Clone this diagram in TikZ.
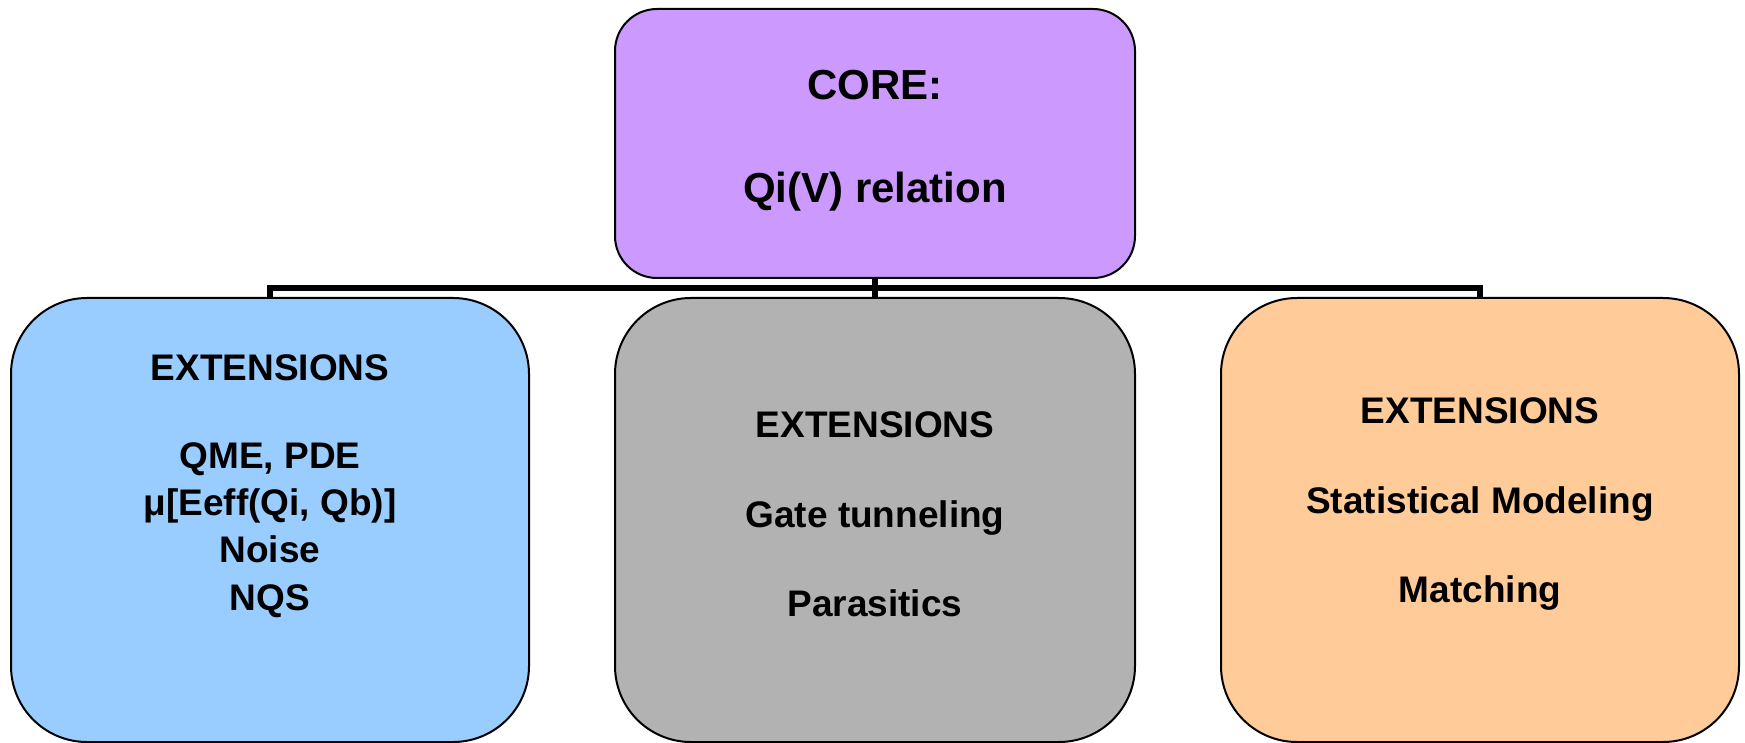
\documentclass[tikz,border=0pt]{standalone}
\usepackage{fontspec}
\setmainfont{Liberation Sans}
\definecolor{corepurple}{HTML}{CC99FF}
\definecolor{extblue}{HTML}{99CCFF}
\definecolor{extgrey}{HTML}{B2B2B2}
\definecolor{extorange}{HTML}{FFCC99}
\begin{document}
\begin{tikzpicture}[x=1pt,y=-1pt,
  extbox/.style={draw=black, line width=2pt, inner sep=0pt, outer sep=0pt,
    rounded corners=76pt, minimum width=518pt, minimum height=444pt},
  corebox/.style={draw=black, line width=2pt, inner sep=0pt, outer sep=0pt,
    rounded corners=42pt, minimum width=520pt, minimum height=269pt, fill=corepurple},
  bigtxt/.style={anchor=base, inner sep=0pt, font=\bfseries\fontsize{42}{50}\selectfont},
  txt/.style={anchor=base, inner sep=0pt, font=\bfseries\fontsize{37}{44}\selectfont},
  bus/.style={draw=black, line width=6pt, line join=miter}]
\useasboundingbox (0,0) rectangle (1745,743);
% boxes
\node[corebox] (core) at (875,143.5) {};
\node[extbox, fill=extblue] (left) at (270,520) {};
\node[extbox, fill=extgrey, minimum width=520pt] (mid) at (875,520) {};
\node[extbox, fill=extorange] (right) at (1480,520) {};
% connectors
\coordinate (busy) at (875,288);
\draw[bus] (core.south) -- (mid.north);
\draw[bus] (core.south |- busy) -| (left.north);
\draw[bus] (core.south |- busy) -| (right.north);
% core text
\node[bigtxt] (c1) at (875,100) {CORE:};
\node[bigtxt] (c2) at (875,203) {Qi(V) relation};
% left text
\node[txt] (l1) at (270,380) {EXTENSIONS};
\node[txt] (l2) at (270,468) {QME, PDE};
\node[txt] (l3) at (270,515) {μ[Eeff(Qi, Qb)]};
\node[txt] (l4) at (270,562) {Noise};
\node[txt] (l5) at (270,610) {NQS};
% middle text
\node[txt] (m1) at (875,437) {EXTENSIONS};
\node[txt] (m2) at (875,527) {Gate tunneling};
\node[txt] (m3) at (875,616) {Parasitics};
% right text
\node[txt] (r1) at (1480,423) {EXTENSIONS};
\node[txt] (r2) at (1480,513) {Statistical Modeling};
\node[txt] (r3) at (1480,602) {Matching};
\end{tikzpicture}
\end{document}
